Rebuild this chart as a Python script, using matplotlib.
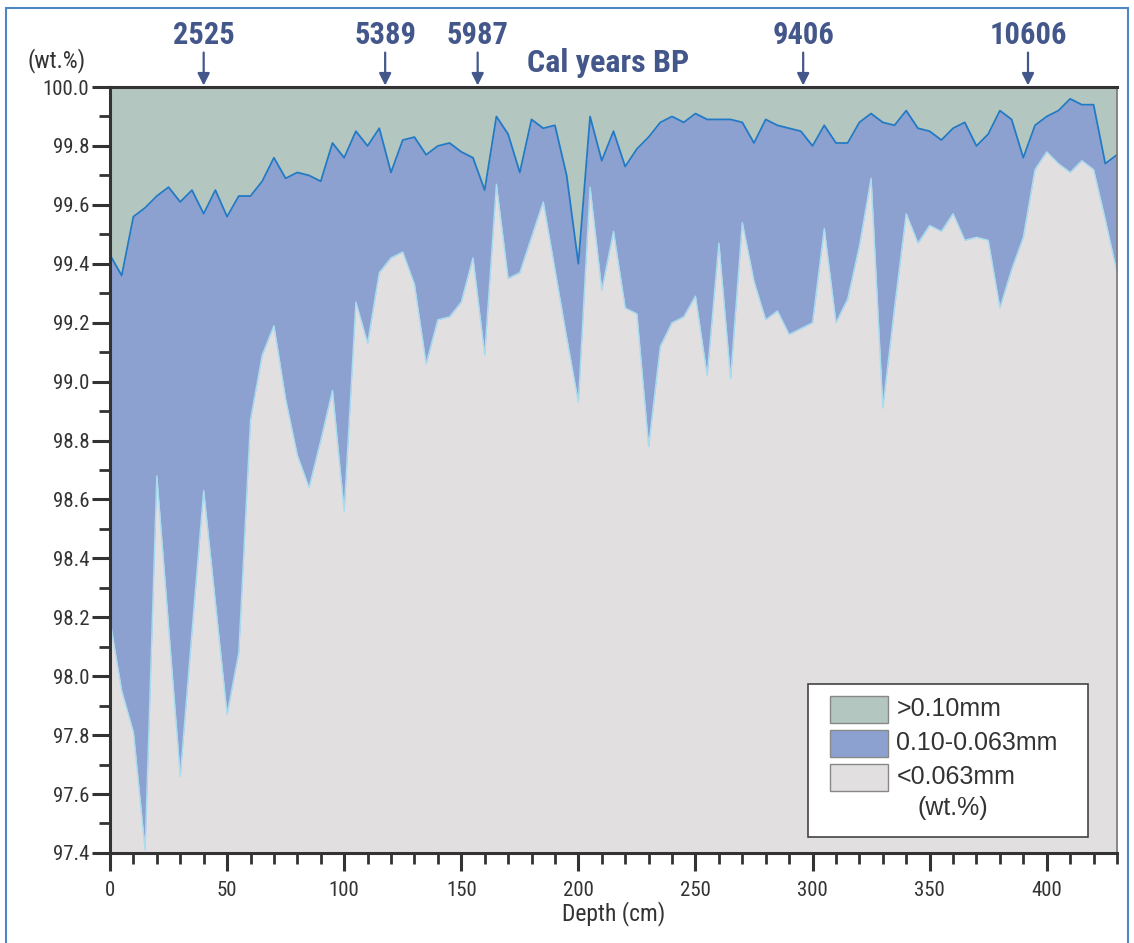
import numpy as np
import matplotlib
matplotlib.use("Agg")
import matplotlib.pyplot as plt
from matplotlib.patches import Rectangle
from matplotlib.ticker import MultipleLocator, FormatStrFormatter

# Depth (cm), sampled every 5 cm
depth = np.arange(0, 431, 5)

# top of the 0.10-0.063mm band (cumulative wt.%)
upper = [
    99.43, 99.36, 99.56, 99.59, 99.63, 99.66, 99.61, 99.65, 99.57, 99.65,
    99.56, 99.63, 99.63, 99.68, 99.76, 99.69, 99.71, 99.70, 99.68, 99.81,
    99.76, 99.85, 99.80, 99.86, 99.71, 99.82, 99.83, 99.77, 99.80, 99.81,
    99.78, 99.76, 99.65, 99.90, 99.84, 99.71, 99.89, 99.86, 99.87, 99.70,
    99.40, 99.90, 99.75, 99.85, 99.73, 99.79, 99.83, 99.88, 99.90, 99.88,
    99.91, 99.89, 99.89, 99.89, 99.88, 99.81, 99.89, 99.87, 99.86, 99.85,
    99.80, 99.87, 99.81, 99.81, 99.88, 99.91, 99.88, 99.87, 99.92, 99.86,
    99.85, 99.82, 99.86, 99.88, 99.80, 99.84, 99.92, 99.89, 99.76, 99.87,
    99.90, 99.92, 99.96, 99.94, 99.94, 99.74, 99.77,
]

# top of the <0.063mm fraction (wt.%)
lower = [
    98.19, 97.95, 97.81, 97.41, 98.68, 98.17, 97.66, 98.15, 98.63, 98.25,
    97.87, 98.08, 98.87, 99.09, 99.19, 98.94, 98.75, 98.64, 98.80, 98.97,
    98.56, 99.27, 99.13, 99.37, 99.42, 99.44, 99.33, 99.06, 99.21, 99.22,
    99.27, 99.42, 99.09, 99.67, 99.35, 99.37, 99.49, 99.61, 99.38, 99.15,
    98.93, 99.66, 99.31, 99.51, 99.25, 99.23, 98.78, 99.12, 99.20, 99.22,
    99.29, 99.02, 99.47, 99.01, 99.54, 99.34, 99.21, 99.24, 99.16, 99.18,
    99.20, 99.52, 99.20, 99.28, 99.46, 99.69, 98.91, 99.25, 99.57, 99.47,
    99.53, 99.51, 99.57, 99.48, 99.49, 99.48, 99.25, 99.38, 99.49, 99.72,
    99.78, 99.74, 99.71, 99.75, 99.72, 99.55, 99.37,
]

# radiocarbon dates marked on top
age_labels = ["2525", "5389", "5987", "9406", "10606"]
age_depths = [40, 117.5, 157, 296, 392]

legend_labels = [">0.10mm", "0.10-0.063mm", "<0.063mm"]

c_coarse = "#b4c6c0"
c_mid = "#8da1d1"
c_fine = "#e2dfe0"
c_text = "#44578a"

narrow = ["Roboto Condensed", "DejaVu Sans"]
regular = ["Liberation Sans", "DejaVu Sans"]

fig = plt.figure(figsize=(11.34, 9.43), dpi=100)
ax = fig.add_axes([0.097, 0.0955, 0.888, 0.8122])

ymin, ymax = 97.4, 100.0

ax.fill_between(depth, ymin, lower, color=c_fine, lw=0)
ax.fill_between(depth, lower, upper, color=c_mid, lw=0)
ax.fill_between(depth, upper, ymax, color=c_coarse, lw=0)
ax.plot(depth, lower, color="#a8dcf0", lw=1.0)
ax.plot(depth, upper, color="#2279c4", lw=1.3)

ax.set_xlim(0, 430)
ax.set_ylim(ymin, ymax)

ax.xaxis.set_major_locator(MultipleLocator(50))
ax.xaxis.set_minor_locator(MultipleLocator(10))
ax.yaxis.set_major_locator(MultipleLocator(0.2))
ax.yaxis.set_minor_locator(MultipleLocator(0.1))
ax.yaxis.set_major_formatter(FormatStrFormatter("%.1f"))

ax.tick_params(which="major", direction="out", length=13, width=2.2,
               color="#333333", labelsize=15, labelcolor="#333333")
ax.tick_params(axis="y", pad=2)
ax.tick_params(axis="x", pad=7)
ax.tick_params(which="minor", direction="out", length=8, width=2.0,
               color="#333333")
for lab in ax.get_xticklabels() + ax.get_yticklabels():
    lab.set_family(narrow)

for s in ["left", "bottom", "top"]:
    ax.spines[s].set_linewidth(2.2)
    ax.spines[s].set_color("#333333")
ax.spines["right"].set_linewidth(1.2)
ax.spines["right"].set_color("#777777")

ax.set_xlabel("Depth (cm)", fontsize=17, family=narrow, color="#333333",
              labelpad=1)

ax.text(-0.053, 1.035, "(wt.%)", transform=ax.transAxes, ha="center",
        va="center", fontsize=17, family=narrow, color="#333333")

# age markers
for lab, d in zip(age_labels, age_depths):
    ax.annotate("", xy=(d, 1.002), xytext=(d, 1.045),
                xycoords=("data", "axes fraction"),
                textcoords=("data", "axes fraction"),
                arrowprops=dict(arrowstyle="-|>", color=c_text, lw=1.6,
                                mutation_scale=18, shrinkA=0, shrinkB=0),
                annotation_clip=False)
    ax.annotate(lab, xy=(d, 1.068), xycoords=("data", "axes fraction"),
                ha="center", va="center", fontsize=22, fontweight="bold",
                family=narrow, color=c_text, annotation_clip=False)

ax.annotate("Cal years BP", xy=(212.5, 1.031),
            xycoords=("data", "axes fraction"), ha="center", va="center",
            fontsize=23, fontweight="bold", family=narrow, color=c_text,
            annotation_clip=False)

# legend box drawn by hand
ax.add_patch(Rectangle((0.693, 0.021), 0.278, 0.1996, transform=ax.transAxes,
                       facecolor="white", edgecolor="#444444", lw=1.2,
                       zorder=5))
box_cols = [c_coarse, c_mid, c_fine]
box_y = [0.1697, 0.1253, 0.0810]
for col, y0, lab in zip(box_cols, box_y, legend_labels):
    ax.add_patch(Rectangle((0.715, y0), 0.0576, 0.0352,
                           transform=ax.transAxes, facecolor=col,
                           edgecolor="#888888", lw=1.0, zorder=6))
    ax.text(0.781, y0 + 0.0176, lab, transform=ax.transAxes, va="center",
            fontsize=18, family=regular, color="#333333", zorder=7)
ax.text(0.802, 0.0587, "(wt.%)", transform=ax.transAxes, va="center",
        fontsize=18, family=regular, color="#333333", zorder=7)

# thin blue frame round the figure
fig.add_artist(Rectangle((0.005, -0.01), 0.99, 1.002,
                         transform=fig.transFigure, fill=False,
                         edgecolor="#4f86c6", lw=1.5))

fig.savefig("out.png", dpi=100)
